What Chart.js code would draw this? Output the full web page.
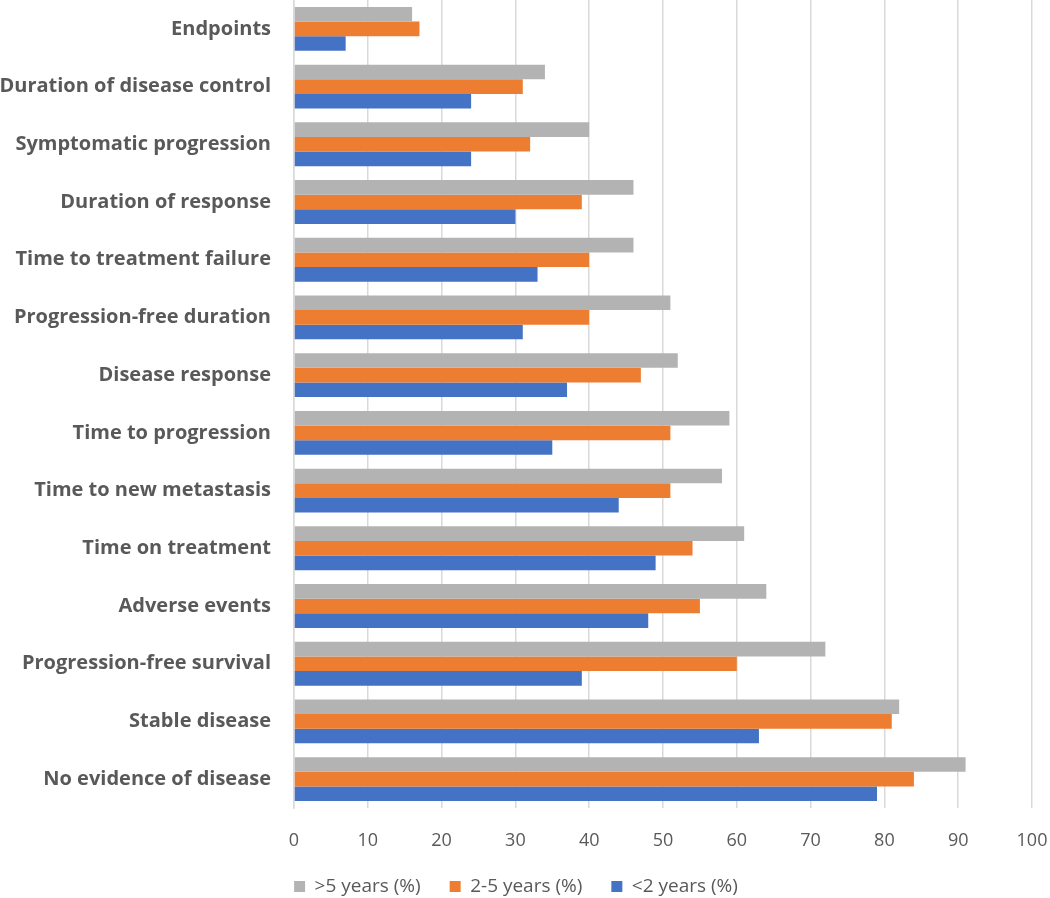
<!DOCTYPE html>
<html lang="en">
<head>
    <meta charset="UTF-8">
    <title>Endpoints by experience</title>
    <script src="https://cdn.jsdelivr.net/npm/chart.js"></script>
    <style>
        html, body { margin: 0; padding: 0; background: #fff; }
        #wrap { width: 1050px; height: 898px; }
    </style>
</head>
<body>
    <div id="wrap"><canvas id="chartEndpoints" width="1050" height="898"></canvas></div>

    <script>
        // categories, top to bottom
        const categories = [
            "Endpoints",
            "Duration of disease control",
            "Symptomatic progression",
            "Duration of response",
            "Time to treatment failure",
            "Progression-free duration",
            "Disease response",
            "Time to progression",
            "Time to new metastasis",
            "Time on treatment",
            "Adverse events",
            "Progression-free survival",
            "Stable disease",
            "No evidence of disease"
        ];

        // values (%) per group
        const over5 = [16, 34, 40, 46, 46, 51, 52, 59, 58, 61, 64, 72, 82, 91];
        const from2to5 = [17, 31, 32, 39, 40, 40, 47, 51, 51, 54, 55, 60, 81, 84];
        const under2 = [7, 24, 24, 30, 33, 31, 37, 35, 44, 49, 48, 39, 63, 79];

        const seriesLabels = [">5 years (%)", "2-5 years (%)", "<2 years (%)"];
        const xTicks = [0, 10, 20, 30, 40, 50, 60, 70, 80, 90, 100];

        const textColor = '#595959';
        const fontFam = "'Open Sans', 'Liberation Sans', sans-serif";

        const ctx = document.getElementById('chartEndpoints').getContext('2d');
        const chart = new Chart(ctx, {
            type: 'bar',
            data: {
                labels: categories,
                datasets: [
                    { label: seriesLabels[0], data: over5, backgroundColor: '#b3b3b3' },
                    { label: seriesLabels[1], data: from2to5, backgroundColor: '#ed7d31' },
                    { label: seriesLabels[2], data: under2, backgroundColor: '#4472c4' }
                ]
            },
            options: {
                indexAxis: 'y',
                responsive: false,
                animation: false,
                layout: { padding: { top: 0, right: 18, left: 0, bottom: -8 } },
                datasets: {
                    bar: { categoryPercentage: 0.76, barPercentage: 1.0 }
                },
                scales: {
                    x: {
                        min: 0,
                        max: 100,
                        afterBuildTicks: (axis) => { axis.ticks = xTicks.map(v => ({ value: v })); },
                        afterFit: (axis) => {
                            axis.paddingLeft = 0;
                            axis.paddingRight = 0;
                            axis.height = 40;
                        },
                        grid: { color: '#d9d9d9', lineWidth: 1.5, drawTicks: false },
                        border: { display: false },
                        ticks: { color: textColor, font: { family: fontFam, size: 18 }, padding: 22 }
                    },
                    y: {
                        grid: { display: false },
                        border: { display: true, color: '#d9d9d9', width: 1.5 },
                        afterFit: (axis) => {
                            axis.width = 294;
                            axis.paddingTop = 0;
                            axis.paddingBottom = 0;
                        },
                        ticks: { color: textColor, font: { family: fontFam, size: 20, weight: 'bold' }, padding: 15 }
                    }
                },
                plugins: {
                    legend: {
                        position: 'bottom',
                        labels: {
                            color: textColor,
                            font: { family: fontFam, size: 19 },
                            boxWidth: 11,
                            boxHeight: 11,
                            padding: 29
                        }
                    },
                    tooltip: { enabled: false }
                }
            }
        });
    </script>
</body>
</html>
